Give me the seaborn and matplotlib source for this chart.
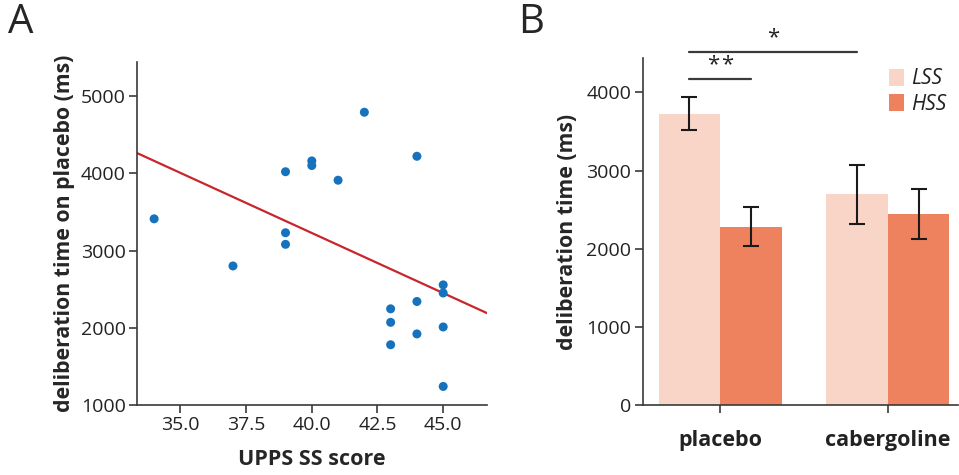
import numpy as np
import pandas as pd
import matplotlib
matplotlib.use("Agg")
import matplotlib.pyplot as plt
import seaborn as sns

# ---- Data ----
upps_ss = [34, 37, 39, 39, 39, 40, 40, 41, 42, 43, 43, 43, 44, 44, 44, 45, 45, 45, 45]
delib_placebo = [3410, 2800, 4020, 3230, 3080, 4160, 4100, 3910, 4790, 2245, 2070,
                 1780, 4220, 2340, 1920, 2555, 2450, 2010, 1240]

drugs = ["placebo", "cabergoline"]
groups = ["LSS", "HSS"]
mean_lss = [3727, 2695]
mean_hss = [2283, 2445]
se_lss = [213, 379]
se_hss = [247, 321]

xticks_a = [35.0, 37.5, 40.0, 42.5, 45.0]
yticks_a = [1000, 2000, 3000, 4000, 5000]
yticks_b = [0, 1000, 2000, 3000, 4000]

# ---- Style ----
sns.set_theme(style="ticks")
plt.rcParams["font.family"] = ["Open Sans", "DejaVu Sans"]
spine_col = "#3a3a3a"
plt.rcParams.update({
    "axes.edgecolor": spine_col,
    "axes.linewidth": 1.2,
    "xtick.color": spine_col,
    "ytick.color": spine_col,
    "xtick.labelcolor": "#222222",
    "ytick.labelcolor": "#222222",
    "xtick.major.size": 6,
    "ytick.major.size": 6,
    "xtick.major.width": 1.2,
    "ytick.major.width": 1.2,
})
tick_fs = 14

fig = plt.figure(figsize=(9.59, 4.75), dpi=100)

# ---- Panel A ----
axA = fig.add_axes([0.1429, 0.1474, 0.365, 0.722])
axA.set_xlim(33.35, 46.67)
axA.set_ylim(1000, 5440)
sns.regplot(x=upps_ss, y=delib_placebo, ax=axA, ci=None, truncate=False,
            scatter_kws=dict(s=42, color="#1672bd", edgecolor="none", alpha=1, zorder=3),
            line_kws=dict(color="#c8262b", lw=1.6, zorder=2))
axA.set_xlim(33.35, 46.67)
axA.set_ylim(1000, 5440)
axA.set_xticks(xticks_a)
axA.set_xticklabels([f"{v:.1f}" for v in xticks_a], fontsize=tick_fs)
axA.set_yticks(yticks_a)
axA.set_yticklabels([str(v) for v in yticks_a], fontsize=tick_fs)
axA.tick_params(axis="both", pad=2)
axA.set_xlabel("UPPS SS score", fontsize=15.5, fontweight="bold", labelpad=11)
axA.set_ylabel("deliberation time on placebo (ms)", fontsize=15.3, fontweight="bold", labelpad=4)
sns.despine(ax=axA)

# ---- Panel B ----
axB = fig.add_axes([0.670, 0.1474, 0.329, 0.7296])
df = pd.DataFrame({
    "drug": drugs * 2,
    "group": [groups[0]] * 2 + [groups[1]] * 2,
    "time": mean_lss + mean_hss,
})
palette = {"LSS": "#f9d5c8", "HSS": "#ef825e"}
sns.barplot(data=df, x="drug", y="time", hue="group", order=drugs, hue_order=groups,
            palette=palette, width=0.737, gap=0, errorbar=None, saturation=1,
            linewidth=0, edgecolor="none", ax=axB, zorder=1)
# error bars at bar centres
centers = {}
for p in axB.patches:
    if p.get_width() > 0 and p.get_height() > 0:
        centers.setdefault(round(p.get_height()), p.get_x() + p.get_width() / 2)
xs = [centers[round(m)] for m in mean_lss + mean_hss]
axB.errorbar(xs, mean_lss + mean_hss, yerr=se_lss + se_hss, fmt="none",
             ecolor="#1a1a1a", elinewidth=1.5, capsize=5.5, capthick=1.5, zorder=3)

axB.set_xlim(-0.464, 1.42)
axB.set_ylim(0, 4435)
axB.set_yticks(yticks_b)
axB.set_yticklabels([str(v) for v in yticks_b], fontsize=tick_fs)
axB.tick_params(axis="y", pad=2)
axB.tick_params(axis="x", pad=12, labelsize=15.5)
for lab in axB.get_xticklabels():
    lab.set_fontweight("bold")
axB.set_xlabel("")
axB.set_ylabel("deliberation time (ms)", fontsize=15.3, fontweight="bold", labelpad=6)
sns.despine(ax=axB)

# significance brackets
x_lss_p, x_lss_c, x_hss_p = xs[0], xs[1], xs[2]
axB.plot([x_lss_p, x_lss_c], [4519, 4519], color="#3a3a3a", lw=1.6, clip_on=False)
axB.text((x_lss_p + x_lss_c) / 2, 4560, "*", ha="center", va="bottom", fontsize=16, color="#222222")
axB.plot([x_lss_p, x_hss_p], [4174, 4174], color="#3a3a3a", lw=1.6, clip_on=False)
mid = (x_lss_p + x_hss_p) / 2
for dx in (-5, 5):
    axB.annotate("*", xy=(mid, 4215), xytext=(dx, 0), textcoords="offset points",
                 ha="center", va="bottom", fontsize=16, color="#222222",
                 annotation_clip=False)

# legend
leg = axB.legend(loc="upper left", bbox_to_anchor=(0.755, 0.995), frameon=False,
                 fontsize=15, handlelength=0.7, handleheight=0.9, handletextpad=0.35,
                 labelspacing=0.2, borderaxespad=0)
for t in leg.get_texts():
    t.set_fontstyle("italic")
    t.set_color("#222222")

# panel letters
fig.text(0.008, 0.995, "A", fontsize=29, va="top", ha="left")
fig.text(0.540, 0.995, "B", fontsize=29, va="top", ha="left")

fig.savefig("out.png", dpi=100)
